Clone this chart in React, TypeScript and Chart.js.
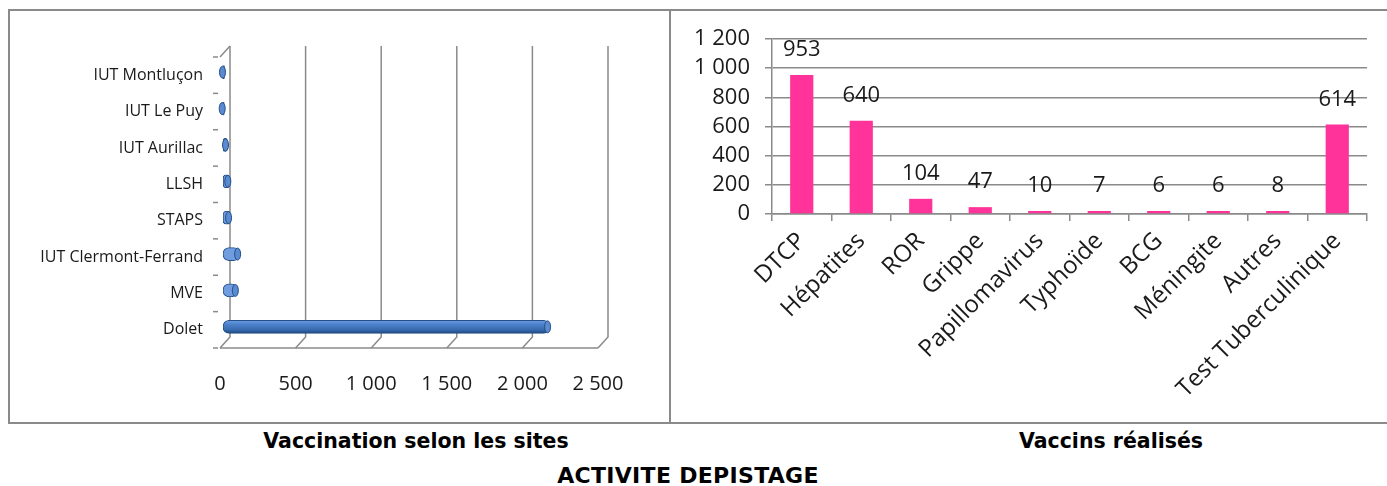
import React, { useEffect, useRef } from 'react';
import { Chart, registerables } from 'chart.js';

Chart.register(...registerables);

// ---- Left chart data: Vaccination selon les sites ----
const siteLabels = [
  'IUT Montluçon',
  'IUT Le Puy',
  'IUT Aurillac',
  'LLSH',
  'STAPS',
  'IUT Clermont-Ferrand',
  'MVE',
  'Dolet',
];
const siteValues = [10, 8, 30, 45, 50, 110, 95, 2160];
const siteTickLabels = ['0', '500', '1 000', '1 500', '2 000', '2 500'];

// ---- Right chart data: Vaccins réalisés ----
const vaccineLabels = [
  'DTCP',
  'Hépatites',
  'ROR',
  'Grippe',
  'Papillomavirus',
  'Typhoïde',
  'BCG',
  'Méningite',
  'Autres',
  'Test Tuberculinique',
];
const vaccineValues = [953, 640, 104, 47, 10, 7, 6, 6, 8, 614];
const vaccineTickLabels = ['0', '200', '400', '600', '800', '1 000', '1 200'];

const titleLeft = 'Vaccination selon les sites';
const titleRight = 'Vaccins réalisés';
const mainTitle = 'ACTIVITE DEPISTAGE';

const AXIS_FONT = "'Open Sans', 'Noto Sans', sans-serif";
const LABEL_FONT = "'Open Sans', 'Noto Sans', sans-serif";
const GRID = '#8a8a8a';

const wall3d = {
  id: 'wall3d',
  beforeDatasetsDraw(chart: any) {
    const { ctx, chartArea, scales } = chart;
    const { left, right, top, bottom } = chartArea;
    const x = scales.x;
    const dx = 10;
    const dy = 11;
    ctx.save();
    ctx.strokeStyle = GRID;
    ctx.lineWidth = 1.5;
    for (let v = 0; v <= 2500; v += 500) {
      const px = x.getPixelForValue(v);
      ctx.beginPath();
      ctx.moveTo(px + dx, top - dy);
      ctx.lineTo(px + dx, bottom - dy);
      ctx.lineTo(px, bottom);
      ctx.stroke();
    }
    ctx.beginPath();
    ctx.moveTo(left, top);
    ctx.lineTo(left + dx, top - dy);
    ctx.stroke();
    ctx.beginPath();
    ctx.moveTo(left, bottom);
    ctx.lineTo(right, bottom);
    ctx.stroke();
    const n = siteLabels.length;
    for (let i = 0; i <= n; i++) {
      const yy = top + (i * (bottom - top)) / n;
      ctx.beginPath();
      ctx.moveTo(left - 7, yy);
      ctx.lineTo(left - 2, yy);
      ctx.stroke();
    }
    ctx.restore();

    const meta = chart.getDatasetMeta(0);
    meta.data.forEach((el: any) => {
      const h = el.height;
      const g = ctx.createLinearGradient(0, el.y - h / 2, 0, el.y + h / 2);
      g.addColorStop(0, '#6f9de0');
      g.addColorStop(0.3, '#4d82cc');
      g.addColorStop(0.7, '#3a6cb0');
      g.addColorStop(1, '#1f4a82');
      el.options.backgroundColor = g;
    });
    ctx.save();
    ctx.translate(3, -3);
  },
  afterDatasetsDraw(chart: any) {
    const { ctx } = chart;
    const meta = chart.getDatasetMeta(0);
    meta.data.forEach((el: any) => {
      const h = el.height;
      ctx.beginPath();
      ctx.ellipse(el.x - 2, el.y, 3, h / 2 - 0.5, 0, 0, Math.PI * 2);
      ctx.fillStyle = '#5a8bd0';
      ctx.fill();
      ctx.strokeStyle = '#244f88';
      ctx.lineWidth = 1;
      ctx.stroke();
    });
    ctx.restore();
  },
};

const dataLabels = {
  id: 'dataLabels',
  afterDatasetsDraw(chart: any) {
    const { ctx } = chart;
    const meta = chart.getDatasetMeta(0);
    ctx.save();
    ctx.font = `22px ${AXIS_FONT}`;
    ctx.fillStyle = '#1a1a1a';
    ctx.textAlign = 'center';
    ctx.textBaseline = 'middle';
    meta.data.forEach((el: any, i: number) => {
      ctx.fillText(String(vaccineValues[i]), el.x, el.y - 25);
    });
    ctx.restore();
  },
};

function SitesChart() {
  const ref = useRef<HTMLCanvasElement>(null);
  useEffect(() => {
    if (!ref.current) return;
    const chart = new Chart(ref.current, {
      type: 'bar',
      data: {
        labels: siteLabels,
        datasets: [
          {
            data: siteValues,
            backgroundColor: '#4f81bd',
            borderColor: '#244f88',
            borderWidth: 1,
            borderSkipped: false,
            borderRadius: 6,
            barThickness: 13,
          },
        ],
      },
      options: {
        indexAxis: 'y',
        animation: false,
        responsive: false,
        maintainAspectRatio: false,
        layout: { padding: { left: 0, right: 70, top: 47, bottom: 13 } },
        plugins: { legend: { display: false }, tooltip: { enabled: false } },
        scales: {
          x: {
            min: 0,
            max: 2500,
            ticks: {
              stepSize: 500,
              padding: 24,
              autoSkip: false,
              color: '#1a1a1a',
              font: { size: 20, family: AXIS_FONT },
              callback: (v: any) => siteTickLabels[Math.round(Number(v) / 500)],
            },
            grid: { display: false, drawTicks: false },
            border: { display: false },
            afterFit: (s: any) => {
              s.height = 60;
            },
          },
          y: {
            ticks: {
              padding: 17,
              autoSkip: false,
              color: '#1a1a1a',
              font: { size: 16, family: AXIS_FONT },
            },
            grid: { display: false, drawTicks: false },
            border: { display: false },
            afterFit: (s: any) => {
              s.width = 210;
            },
          },
        },
      },
      plugins: [wall3d],
    });
    return () => chart.destroy();
  }, []);
  return (
    <canvas
      ref={ref}
      width={658}
      height={411}
      style={{ position: 'absolute', left: 10, top: 10, width: 658, height: 411 }}
    />
  );
}

function VaccinesChart() {
  const ref = useRef<HTMLCanvasElement>(null);
  useEffect(() => {
    if (!ref.current) return;
    const chart = new Chart(ref.current, {
      type: 'bar',
      data: {
        labels: vaccineLabels,
        datasets: [
          {
            data: vaccineValues,
            backgroundColor: '#ff3399',
            borderWidth: 0,
            categoryPercentage: 1,
            barPercentage: 0.39,
            minBarLength: 3,
          },
        ],
      },
      options: {
        animation: false,
        responsive: false,
        maintainAspectRatio: false,
        layout: { padding: { left: 0, right: 20, top: 29, bottom: 7 } },
        plugins: { legend: { display: false }, tooltip: { enabled: false } },
        scales: {
          x: {
            grid: {
              drawOnChartArea: false,
              drawTicks: true,
              tickLength: 7,
              color: GRID,
              lineWidth: 1.5,
              offset: true,
            },
            border: { display: true, color: GRID, width: 1.5 },
            ticks: {
              minRotation: 45,
              maxRotation: 45,
              autoSkip: false,
              padding: 6,
              color: '#1a1a1a',
              font: { size: 24, family: LABEL_FONT },
            },
            afterFit: (s: any) => {
              s.height = 200;
            },
          },
          y: {
            min: 0,
            max: 1200,
            ticks: {
              stepSize: 200,
              autoSkip: false,
              padding: 15,
              color: '#1a1a1a',
              font: { size: 22, family: AXIS_FONT },
              callback: (v: any) => vaccineTickLabels[Math.round(Number(v) / 200)],
            },
            grid: { color: GRID, lineWidth: 1.5, tickLength: 7 },
            border: { display: true, color: GRID, width: 1.5 },
            afterFit: (s: any) => {
              s.width = 100;
            },
          },
        },
      },
      plugins: [dataLabels],
    });
    return () => chart.destroy();
  }, []);
  return (
    <canvas
      ref={ref}
      width={715}
      height={411}
      style={{ position: 'absolute', left: 672, top: 10, width: 715, height: 411 }}
    />
  );
}

const titleFont = "'Comic Sans MS', 'DejaVu Sans', sans-serif";

const titleStyle = {
  position: 'absolute' as const,
  width: 500,
  textAlign: 'center' as const,
  fontFamily: titleFont,
  fontWeight: 'bold' as const,
  color: '#000',
  whiteSpace: 'nowrap' as const,
};

export default function App() {
  return (
    <div
      style={{
        position: 'absolute',
        left: 0,
        top: 0,
        width: 1387,
        height: 486,
        overflow: 'hidden',
        background: '#ffffff',
      }}
    >
      <div
        style={{
          position: 'absolute',
          left: 8,
          top: 9,
          width: 663,
          height: 415,
          boxSizing: 'border-box',
          border: `2px solid ${GRID}`,
        }}
      />
      <div
        style={{
          position: 'absolute',
          left: 669,
          top: 9,
          width: 740,
          height: 415,
          boxSizing: 'border-box',
          border: `2px solid ${GRID}`,
        }}
      />
      <SitesChart />
      <VaccinesChart />
      <div style={{ ...titleStyle, left: 166, top: 427, fontSize: 20.5, lineHeight: '28px' }}>
        {titleLeft}
      </div>
      <div style={{ ...titleStyle, left: 861, top: 427, fontSize: 20.5, lineHeight: '28px' }}>
        {titleRight}
      </div>
      <div
        style={{
          ...titleStyle,
          left: 438,
          top: 462,
          fontSize: 22,
          lineHeight: '28px',
          letterSpacing: 0.3,
        }}
      >
        {mainTitle}
      </div>
    </div>
  );
}
